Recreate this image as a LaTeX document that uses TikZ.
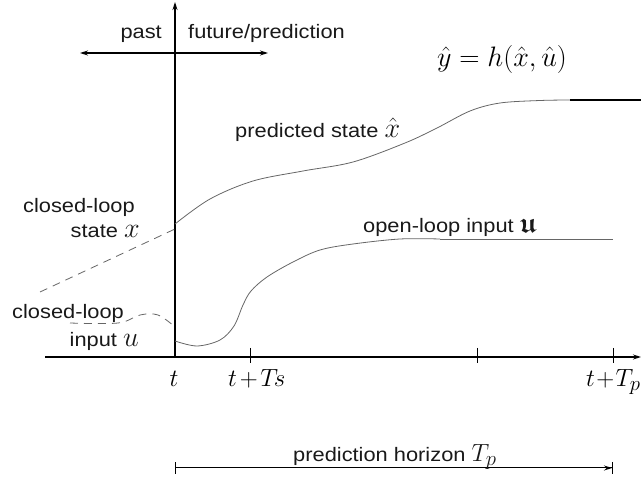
\documentclass[tikz,border=0pt]{standalone}
\usepackage{amsmath,amssymb}
\usepackage{graphicx}
\usepackage{fontspec}
\setmainfont[FakeStretch=1.12]{Liberation Sans}
\usetikzlibrary{arrows.meta}
\newcommand{\mymath}[1]{\scalebox{1.13}{\fontsize{24.88}{26}\selectfont$#1$}}
\begin{document}
\begin{tikzpicture}[x=1pt,y=-1pt,
  txt/.style={font=\fontsize{19.5}{22}\selectfont, inner sep=0pt, text=black!90},
  mth/.style={font=\fontsize{24.88}{26}\selectfont, inner sep=0pt},
  axis/.style={line width=1.1pt, black},
  curve/.style={line width=0.8pt, draw=black!60},
  dcurve/.style={curve, dash pattern=on 8pt off 6pt},
  tickmark/.style={line width=1pt, black}]
\useasboundingbox (0,0) rectangle (641,481);

% axes
\coordinate (vtop) at (175,2);
\coordinate (vbot) at (175,357);
\coordinate (hl) at (45,357);
\coordinate (hr) at (641,357);
\draw[axis,-{Stealth[length=8pt,width=5pt]}] (vbot) -- (vtop);
\draw[axis,-{Stealth[length=8pt,width=5pt]}] (hl) -- (hr);
\coordinate (pl) at (80,53);
\coordinate (pr) at (268,53);
\draw[axis,{Stealth[length=8pt,width=5pt]}-{Stealth[length=8pt,width=5pt]}] (pl) -- (pr);

% ticks
\foreach \n/\x in {a/250,b/477,c/613}{
  \coordinate (\n1) at (\x,348);
  \coordinate (\n2) at (\x,363);
  \draw[tickmark] (\n1) -- (\n2);
}

% top labels
\node[txt, anchor=base east] (past) at (162,39) {past};
\node[txt, anchor=base west] (future) at (188,39) {future/prediction};
\node[anchor=base west, inner sep=0pt] (yeq) at (437,67) {\mymath{\hat y = h(\hat x,\hat u)}};

% predicted state
\draw[curve] plot[smooth, tension=0.55] coordinates {(175,224) (210,199) (253,181) (303,171) (353,162) (405,143) (437,128) (470,111) (500,103) (540,100.5) (570,100)};
\coordinate (xe1) at (570,100);
\coordinate (xe2) at (641,100);
\draw[line width=1.1pt] (xe1) -- (xe2);
\node[txt, anchor=base west] (pred) at (235,138) {predicted state \mymath{\hat x}};

% closed-loop state (dashed)
\coordinate (cs1) at (40,292);
\coordinate (cs2) at (175,229);
\draw[dcurve] (cs1) -- (cs2);
\node[txt, anchor=base east] (cl1) at (135,213) {closed-loop};
\node[txt, anchor=base east] (st) at (140,238) {state \mymath{x}};

% open-loop input
\draw[curve] plot[smooth, tension=0.55] coordinates {(175,341) (197,346) (220,340) (234,326) (243,305) (251,291) (267,277) (293,262) (320,250) (353,244) (400,239) (440,239)};
\coordinate (ou1) at (440,239);
\coordinate (ou2) at (613,239);
\draw[curve] (ou1) -- (ou2);
\node[txt, anchor=base west] (ol) at (363,233) {open-loop input \mymath{\boldsymbol{\mathfrak{u}}}};

% closed-loop input (dashed)
\draw[dcurve] plot[smooth, tension=0.6] coordinates {(70,323) (118,323) (140,315) (158,315) (175,327)};
\node[txt, anchor=base west] (cl2) at (12,319) {closed-loop};
\node[txt, anchor=base east] (inp) at (139,347) {input \mymath{u}};

% time labels
\node[mth, anchor=base] (t0) at (174,387) {$t$};
\node[mth, anchor=base west] (t1) at (228,387) {$t\mkern2mu{+}\mkern2mu T\!s$};
\node[mth, anchor=base west] (t2) at (586,387) {$t\mkern-3mu+\mkern-3mu T_p$};

% prediction horizon
\coordinate (h1) at (175,468);
\coordinate (h2) at (613,468);
\draw[line width=1pt, {Bar[width=12pt]}-{Stealth[length=8pt,width=5pt]Bar[width=12pt]}] (h1) -- (h2);
\node[txt, anchor=base west] (hor) at (293,462) {prediction horizon {\fontsize{24.88}{26}\selectfont$T_p$}};
\end{tikzpicture}
\end{document}
